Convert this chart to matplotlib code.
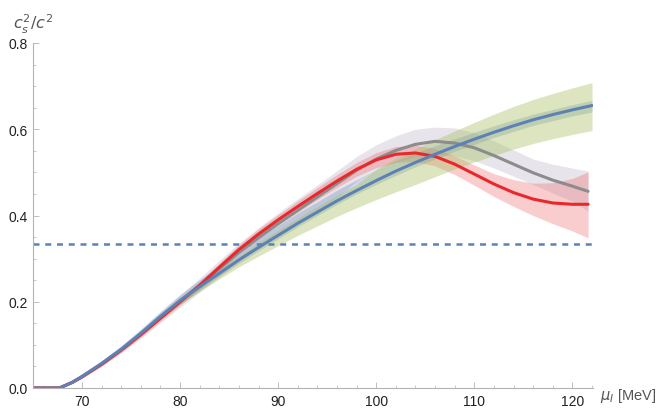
import matplotlib
matplotlib.use("Agg")
import matplotlib.pyplot as plt
from matplotlib.ticker import MultipleLocator, FormatStrFormatter

# chemical potential grid (MeV)
mu = [65, 67.7, 69, 70, 72, 74, 76, 78, 80, 82, 84, 86, 88, 90, 92, 94, 96, 98,
      100, 102, 104, 106, 108, 110, 112, 114, 116, 118, 120, 122]
mu_rg = mu[:-1] + [121.6]

# blue curve + bands
blue = [0, 0, 0.013, 0.027, 0.057, 0.090, 0.127, 0.166, 0.203, 0.235, 0.266, 0.297,
        0.326, 0.354, 0.382, 0.408, 0.434, 0.458, 0.481, 0.503, 0.523, 0.542, 0.560,
        0.577, 0.593, 0.608, 0.622, 0.634, 0.645, 0.655]
blue_lo = [0, 0, 0.011, 0.024, 0.053, 0.085, 0.121, 0.159, 0.195, 0.227, 0.258, 0.289,
           0.318, 0.346, 0.374, 0.400, 0.426, 0.450, 0.472, 0.493, 0.513, 0.531, 0.549,
           0.565, 0.581, 0.595, 0.609, 0.620, 0.631, 0.640]
blue_hi = [0, 0, 0.016, 0.031, 0.063, 0.098, 0.137, 0.178, 0.217, 0.251, 0.284, 0.317,
           0.348, 0.377, 0.406, 0.432, 0.459, 0.483, 0.506, 0.527, 0.545, 0.562, 0.578,
           0.593, 0.608, 0.622, 0.635, 0.646, 0.657, 0.667]
green_lo = [0, 0, 0.012, 0.025, 0.054, 0.086, 0.122, 0.159, 0.194, 0.224, 0.253, 0.281,
            0.306, 0.330, 0.354, 0.376, 0.398, 0.418, 0.437, 0.455, 0.472, 0.490, 0.508,
            0.524, 0.539, 0.554, 0.567, 0.578, 0.588, 0.597]
green_hi = [0, 0, 0.014, 0.029, 0.060, 0.094, 0.132, 0.172, 0.210, 0.243, 0.275, 0.307,
            0.337, 0.366, 0.394, 0.421, 0.447, 0.472, 0.508, 0.533, 0.555, 0.576, 0.596,
            0.616, 0.635, 0.653, 0.669, 0.683, 0.696, 0.708]

# red curve + band
red = [0, 0, 0.013, 0.026, 0.055, 0.088, 0.124, 0.162, 0.200, 0.238, 0.280, 0.321,
       0.357, 0.390, 0.421, 0.451, 0.480, 0.507, 0.529, 0.542, 0.545, 0.537, 0.519,
       0.496, 0.473, 0.453, 0.438, 0.429, 0.426, 0.426]
red_lo = [0, 0, 0.011, 0.023, 0.051, 0.083, 0.118, 0.155, 0.192, 0.229, 0.270, 0.310,
          0.345, 0.378, 0.408, 0.437, 0.465, 0.491, 0.511, 0.523, 0.525, 0.515, 0.495,
          0.470, 0.444, 0.421, 0.400, 0.381, 0.364, 0.348]
red_hi = [0, 0, 0.015, 0.029, 0.059, 0.093, 0.130, 0.169, 0.208, 0.247, 0.290, 0.332,
          0.369, 0.402, 0.434, 0.465, 0.495, 0.523, 0.546, 0.560, 0.563, 0.555, 0.538,
          0.517, 0.497, 0.483, 0.475, 0.476, 0.486, 0.501]

# gray curve + band
gray = [0, 0, 0.013, 0.026, 0.056, 0.089, 0.125, 0.163, 0.201, 0.238, 0.277, 0.315,
        0.349, 0.381, 0.412, 0.443, 0.474, 0.505, 0.531, 0.551, 0.565, 0.572, 0.568,
        0.557, 0.539, 0.519, 0.499, 0.482, 0.468, 0.456]
gray_lo = [0, 0, 0.010, 0.022, 0.050, 0.081, 0.115, 0.151, 0.187, 0.222, 0.259, 0.294,
           0.326, 0.355, 0.383, 0.410, 0.442, 0.480, 0.507, 0.525, 0.536, 0.542, 0.538,
           0.527, 0.510, 0.491, 0.472, 0.452, 0.433, 0.410]
gray_hi = [0, 0, 0.016, 0.030, 0.062, 0.097, 0.135, 0.175, 0.215, 0.255, 0.296, 0.336,
           0.372, 0.406, 0.439, 0.471, 0.504, 0.537, 0.564, 0.585, 0.600, 0.605, 0.603,
           0.592, 0.573, 0.552, 0.531, 0.519, 0.510, 0.503]

conformal = 1 / 3

c_blue = '#5e81b5'
c_red = '#e8282c'
c_gray = '#8c8c8c'
axis_col = '#b3b3b3'
label_col = '#555555'

plt.rcParams['font.family'] = ['Liberation Sans', 'DejaVu Sans']

fig = plt.figure(figsize=(6.62, 4.10), dpi=100)
ax = fig.add_axes([33 / 662, 21 / 410, 560 / 662, 345 / 410])

# bands
ax.fill_between(mu_rg, gray_lo, gray_hi, color='#cbc6d4', alpha=0.45, lw=0)
ax.fill_between(mu_rg, red_lo, red_hi, color='#ee5a5e', alpha=0.3, lw=0)
ax.fill_between(mu, blue_lo, blue_hi, color=c_blue, alpha=0.3, lw=0)
ax.fill_between(mu, green_lo, green_hi, color='#a8c060', alpha=0.4, lw=0)

# conformal limit
ax.plot([mu[0], mu[-1]], [conformal, conformal], color=c_blue, lw=1.8,
        linestyle=(0, (2.4, 2.3)), solid_capstyle='butt', dash_capstyle='butt')

# central curves
ax.plot(mu_rg, gray, color=c_gray, lw=2.2, solid_capstyle='round')
ax.plot(mu_rg, red, color=c_red, lw=2.2, solid_capstyle='round')
ax.plot(mu, blue, color=c_blue, lw=2.2, solid_capstyle='round')

ax.set_xlim(65, 122.1)
ax.set_ylim(0, 0.8)

for s in ['top', 'right']:
    ax.spines[s].set_visible(False)
for s in ['left', 'bottom']:
    ax.spines[s].set_color(axis_col)
    ax.spines[s].set_linewidth(0.8)

ax.xaxis.set_major_locator(MultipleLocator(10))
ax.xaxis.set_minor_locator(MultipleLocator(2))
ax.yaxis.set_major_locator(MultipleLocator(0.2))
ax.yaxis.set_minor_locator(MultipleLocator(0.05))
ax.yaxis.set_major_formatter(FormatStrFormatter('%.1f'))

ax.tick_params(which='major', direction='in', length=4, width=0.6, color=axis_col,
               labelsize=10, labelcolor='#222222', pad=4)
ax.tick_params(which='minor', direction='in', length=2.5, width=0.5, color=axis_col)

fig.text(13 / 662, 1 - 24 / 410, r'$c_s^2/c^2$', fontsize=11.5, color=label_col,
         ha='left', va='center')
fig.text(600 / 662, 1 - 396 / 410, r'$\mu_I$ [MeV]', fontsize=10.5, color=label_col,
         ha='left', va='center')

fig.savefig('out.png', dpi=100)
